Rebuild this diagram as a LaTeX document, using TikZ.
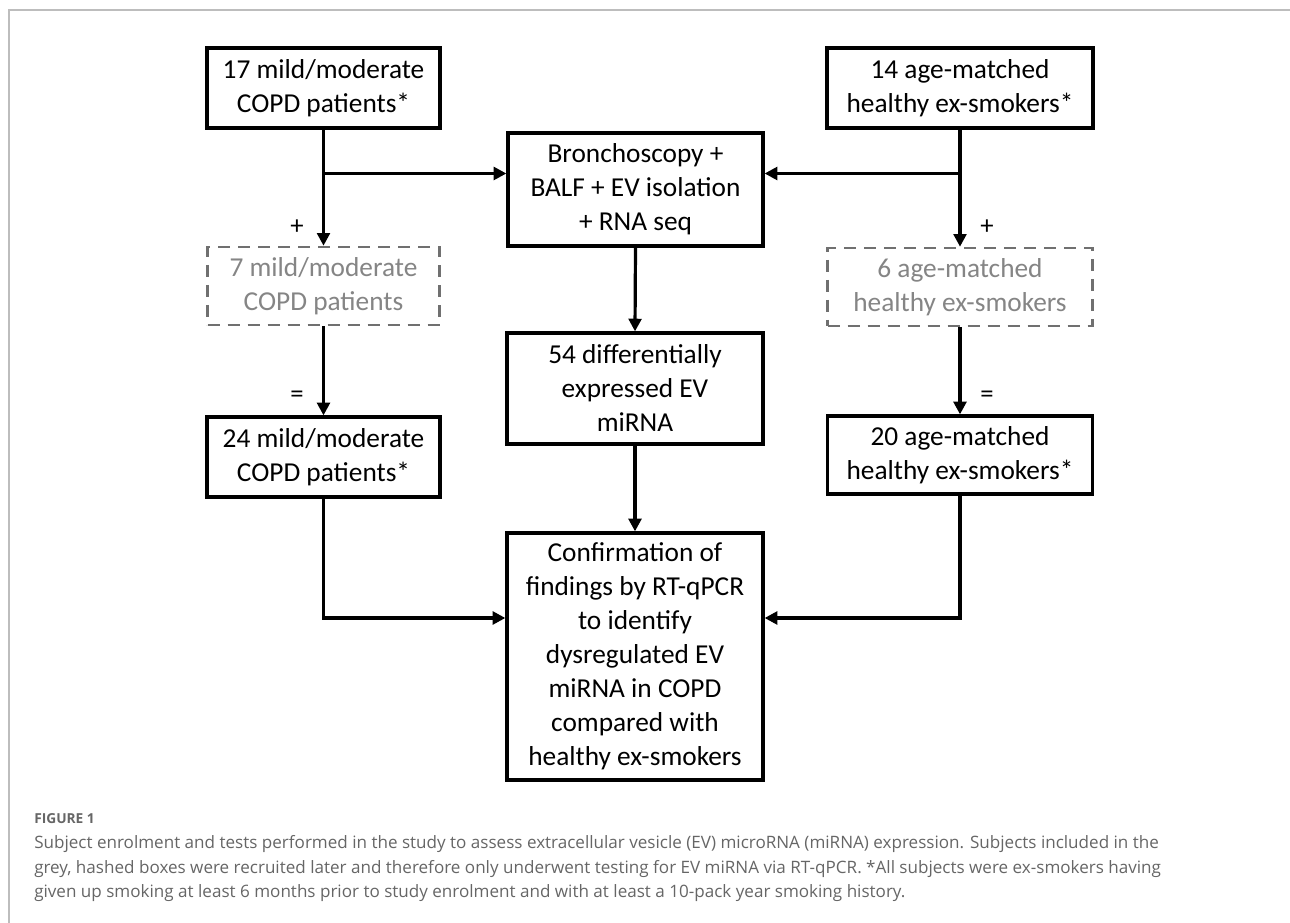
\documentclass[tikz,border=0pt]{standalone}
\usepackage{fontspec}
\setmainfont{Carlito}
\newfontfamily\capfont{Open Sans}
\usetikzlibrary{arrows.meta,calc}
\definecolor{framegrey}{HTML}{BDBDBD}
\definecolor{dashgrey}{HTML}{707070}
\definecolor{txtgrey}{HTML}{858585}
\definecolor{capgrey}{HTML}{666666}
\begin{document}
\begin{tikzpicture}[x=0.75pt,y=-0.75pt,
  bsize/.style 2 args={minimum width=#1*0.75pt, minimum height=#2*0.75pt},
  box/.style={draw=black, line width=2.4pt, inner sep=0pt, align=center,
    font=\fontsize{20.5}{25.5}\selectfont},
  dbox/.style={draw=dashgrey, line width=1.9pt, dash pattern=on 9pt off 6pt,
    inner sep=0pt, align=center, text=txtgrey, font=\fontsize{20.5}{25.5}\selectfont},
  conn/.style={line width=2.4pt, -{Triangle[length=9.5pt,width=9.5pt]}},
  sign/.style={font=\fontsize{20}{24}\selectfont, inner sep=0pt},
  capline/.style={anchor=base west, inner sep=0pt, text=capgrey,
    font=\capfont\fontsize{12.8}{15}\selectfont},
  frameline/.style={draw=framegrey, line width=0.9pt}]
\useasboundingbox (0,0) rectangle (1290,923);
\fill[white] (0,0) rectangle (1290,923);
\draw[frameline] (9,923) -- (9,10) -- (1290,10);

% nodes
\node[box, bsize={233}{80}] (A) at (323.5,88) {17 mild/moderate\\COPD patients*};
\node[box, bsize={266}{80}] (B) at (960,88) {14 age-matched\\healthy ex-smokers*};
\node[box, bsize={255}{113}] (bro) at (635.5,189.5) {Bronchoscopy +\\BALF + EV isolation\\+ RNA seq};
\node[dbox, bsize={232}{78}] (dL) at (323.5,286) {7 mild/moderate\\COPD patients};
\node[dbox, bsize={265}{78}] (dR) at (960,287) {6 age-matched\\healthy ex-smokers};
\node[box, bsize={256}{111}] (deg) at (635,388.5) {54 differentially\\expressed EV\\miRNA};
\node[box, bsize={233}{80}] (L24) at (323.5,457) {24 mild/moderate\\COPD patients*};
\node[box, bsize={265}{78}] (R20) at (960,455) {20 age-matched\\healthy ex-smokers*};
\node[box, bsize={256}{247}] (conf) at (635,656.5) {Confirmation of\\findings by RT-qPCR\\to identify\\dysregulated EV\\miRNA in COPD\\compared with\\healthy ex-smokers};

% signs
\node[sign] (plusL) at (297,227) {+};
\node[sign] (eqL) at (297,397) {=};
\node[sign] (plusR) at (987,227) {+};
\node[sign] (eqR) at (987,397) {=};

% junctions
\coordinate (jA) at (323.5,173.5);
\coordinate (jB) at (960,173.5);

% connectors
\draw[conn] (A.south) -- (dL.north);
\draw[conn] (jA) -- (jA -| bro.west);
\draw[conn] (B.south) -- (dR.north);
\draw[conn] (jB) -- (jB -| bro.east);
\draw[conn] (dL.south) -- (L24.north);
\draw[conn] (dR.south) -- (R20.north);
\draw[conn] (bro.south) -- (deg.north);
\draw[conn] (deg.south) -- (conf.north);
\draw[conn] (L24.south) |- ($(conf.west)+(0,-38.5)$);
\draw[conn] (R20.south) |- ($(conf.east)+(0,-38.5)$);

% caption
\node[anchor=base west, inner sep=0pt, text=capgrey, font=\capfont\bfseries\fontsize{10.3}{12}\selectfont] (fig) at (34,823) {FIGURE 1};
\node[capline] (c1) at (34,848) {Subject enrolment and tests performed in the study to assess extracellular vesicle (EV) microRNA (miRNA) expression. Subjects included in the};
\node[capline] (c2) at (34,873) {grey, hashed boxes were recruited later and therefore only underwent testing for EV miRNA via RT-qPCR. *All subjects were ex-smokers having};
\node[capline] (c3) at (34,897) {given up smoking at least 6 months prior to study enrolment and with at least a 10-pack year smoking history.};
\end{tikzpicture}
\end{document}
